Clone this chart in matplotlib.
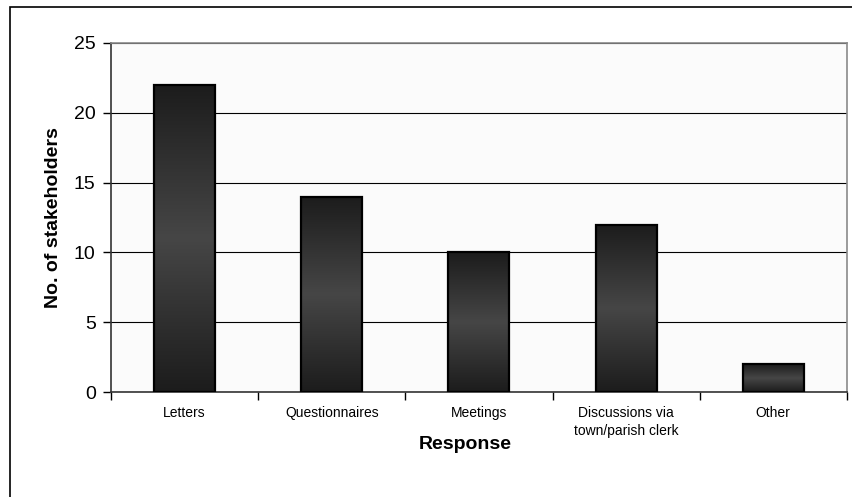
import numpy as np
import matplotlib
matplotlib.use("Agg")
import matplotlib.pyplot as plt
from matplotlib.colors import LinearSegmentedColormap
from matplotlib.patches import Rectangle

plt.rcParams['font.family'] = ['Liberation Sans', 'DejaVu Sans']

categories = ["Letters", "Questionnaires", "Meetings",
              "Discussions via\ntown/parish clerk", "Other"]
values = [22, 14, 10, 12, 2]
y_ticks = [0, 5, 10, 15, 20, 25]

fig = plt.figure(figsize=(8.52, 4.97), dpi=100)
ax = fig.add_axes([0.1303, 0.211, 0.8637, 0.7025])

# outer frame around the chart
fig.patches.append(Rectangle((10 / 852, -0.05), 1.2, 1 - 7 / 497 + 0.05,
                             transform=fig.transFigure, fill=False,
                             edgecolor='black', linewidth=1.2))

ax.set_facecolor('#fbfbfb')
ax.set_yticks(y_ticks)
ax.yaxis.grid(True, color='black', linewidth=0.8)
ax.set_axisbelow(True)

cmap = LinearSegmentedColormap.from_list(
    'shade', ['#1c1c1c', '#464646', '#1c1c1c'])
grad = np.linspace(0, 1, 256).reshape(-1, 1)

x = np.arange(len(categories))
bars = ax.bar(x, values, width=0.415, color='none', edgecolor='black',
              linewidth=1.6, zorder=3)
for b in bars:
    x0, y0 = b.get_x(), b.get_y()
    w, h = b.get_width(), b.get_height()
    im = ax.imshow(grad, cmap=cmap, aspect='auto',
                   extent=(x0, x0 + w, y0, y0 + h), zorder=2,
                   interpolation='bicubic')
    im.set_clip_path(b)
ax.set_xlim(-0.5, len(categories) - 0.5)
ax.set_ylim(0, 25)

# category boundaries as x ticks
ax.set_xticks(np.arange(-0.5, len(categories), 1.0))
ax.set_xticklabels([])
ax.set_xticks(x, minor=True)
ax.set_xticklabels(categories, minor=True, fontsize=10, linespacing=1.35)
ax.tick_params(axis='x', which='minor', length=0, pad=10)
ax.tick_params(axis='x', which='major', length=6, width=1, direction='out')
ax.tick_params(axis='y', length=6, width=1, labelsize=14, pad=5)

for side in ('top', 'right'):
    ax.spines[side].set_color('#8a8a8a')
    ax.spines[side].set_linewidth(1.2)
for side in ('left', 'bottom'):
    ax.spines[side].set_color('#333333')
    ax.spines[side].set_linewidth(1.2)

ax.set_ylabel('No. of stakeholders', fontsize=14, fontweight='bold')
ax.yaxis.set_label_coords(-0.067, 0.5)
ax.set_xlabel('Response', fontsize=14, fontweight='bold')
ax.xaxis.set_label_coords(0.482, -0.126)

fig.savefig('out.png', dpi=100)
